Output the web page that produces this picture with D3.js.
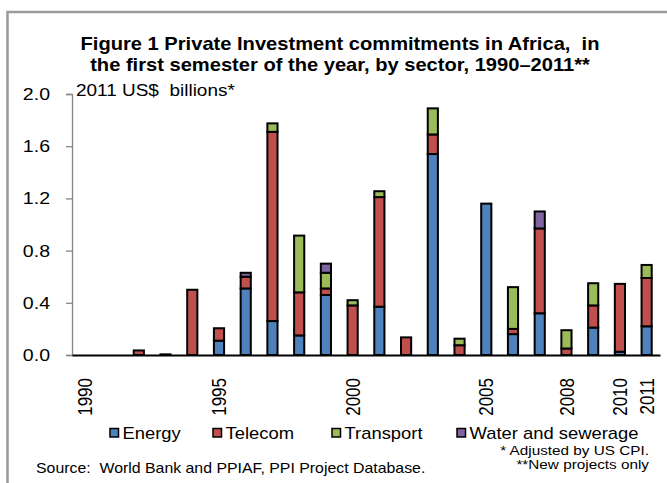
<!DOCTYPE html>
<html>
<head>
<meta charset="utf-8">
<script src="https://cdn.jsdelivr.net/npm/d3@7"></script>
<style>
  html, body { margin: 0; padding: 0; background: #fff; }
  svg { display: block; }
  text { font-family: 'Liberation Sans', Arial, Helvetica, sans-serif; fill: #000; white-space: pre; }
</style>
</head>
<body>
<svg id="chart" width="667" height="483"></svg>
<script>
// Private investment commitments in Africa (2011 US$ billions), first semester
const years = d3.range(1990, 2012).map(String);
const energy    = [0, 0, 0, 0, 0, 0.11, 0.51, 0.26, 0.15, 0.46, 0, 0.37, 0, 1.54, 0, 1.16, 0.16, 0.32, 0, 0.21, 0.025, 0.22];
const telecom   = [0, 0, 0.035, 0.005, 0.5, 0.095, 0.09, 1.45, 0.33, 0.05, 0.38, 0.84, 0.135, 0.15, 0.075, 0, 0.04, 0.65, 0.05, 0.17, 0.52, 0.37];
const transport = [0, 0, 0, 0, 0, 0, 0, 0.065, 0.435, 0.12, 0.04, 0.045, 0, 0.2, 0.05, 0, 0.32, 0, 0.14, 0.17, 0, 0.1];
const water     = [0, 0, 0, 0, 0, 0, 0.03, 0, 0, 0.07, 0, 0, 0, 0, 0, 0, 0, 0.13, 0, 0, 0, 0];

const sectors = ['Energy', 'Telecom', 'Transport', 'Water and sewerage'];
const sectorColors = ['#4F81BD', '#C0504D', '#9BBB59', '#8064A2'];
const yTicks = [0, 0.4, 0.8, 1.2, 1.6, 2.0];
const yearLabels = ['1990', '1995', '2000', '2005', '2008', '2010', '2011'];

const titleLines = [
  'Figure 1 Private Investment commitments in Africa,  in',
  'the first semester of the year, by sector, 1990\u20132011**'
];

// the source picture is stretched a bit horizontally; mimic that on text
const SX = 1.15;

const svg = d3.select('#chart');

// adds a text at (x, y) with the horizontal stretch applied
const addText = (parent, x, y, str, size, anchor, weight) => {
  return parent.append('text')
    .attr('transform', `translate(${x},${y}) scale(${SX},1)`)
    .attr('text-anchor', anchor || 'start')
    .style('font-size', size + 'px')
    .style('font-weight', weight || 'normal')
    .text(str);
};

// outer frame (only left and top edges are visible)
svg.append('path')
  .attr('d', 'M7.5,483 V12 H667')
  .attr('fill', 'none')
  .attr('stroke', '#9a9a9a')
  .attr('stroke-width', 2.5);

titleLines.forEach((line, i) => {
  addText(svg, 340, 50 + i * 21, line, 17.5, 'middle', 'bold');
});

const x = d3.scaleBand()
  .domain(years)
  .range([72, 660])
  .paddingInner(0.62)
  .paddingOuter(0.31);

const y = d3.scaleLinear()
  .domain([0, 2])
  .range([355, 94]);

// y axis
const yAxis = svg.append('g')
  .attr('transform', 'translate(72,0)')
  .call(d3.axisLeft(y).tickValues(yTicks).tickSize(6).tickFormat(d3.format('.1f')));
yAxis.select('.domain').attr('stroke', '#868686').attr('stroke-width', 1.3);
yAxis.selectAll('.tick line').attr('stroke', '#868686').attr('stroke-width', 1.3);
yAxis.selectAll('.tick text')
  .attr('x', -22 / SX)
  .attr('transform', `scale(${SX},1)`)
  .style('font-size', '17px')
  .style('font-family', null);

addText(svg, 76, 96, '2011 US$  billions*', 16.5, 'start');

// stacked bars
const rows = years.map((yr, i) => ({
  year: yr,
  [sectors[0]]: energy[i],
  [sectors[1]]: telecom[i],
  [sectors[2]]: transport[i],
  [sectors[3]]: water[i]
}));
const stacked = d3.stack().keys(sectors)(rows);

svg.append('g')
  .selectAll('g')
  .data(stacked)
  .join('g')
  .attr('fill', (d, i) => sectorColors[i])
  .selectAll('rect')
  .data(d => d.filter(s => s[1] - s[0] > 0))
  .join('rect')
  .attr('x', d => x(d.data.year))
  .attr('width', x.bandwidth())
  .attr('y', d => y(d[1]))
  .attr('height', d => y(d[0]) - y(d[1]))
  .attr('stroke', '#000')
  .attr('stroke-width', 2);

// x axis
const xAxis = svg.append('g')
  .attr('transform', 'translate(0,355)')
  .call(d3.axisBottom(x).tickValues(yearLabels).tickSize(0).tickSizeOuter(0));
xAxis.select('.domain').attr('stroke', '#000').attr('stroke-width', 2);
xAxis.selectAll('.tick text')
  .attr('transform', `scale(${SX},1) rotate(-90)`)
  .attr('text-anchor', 'end')
  .attr('x', -23)
  .attr('y', 0)
  .attr('dy', '0.36em')
  .style('font-size', '17px')
  .style('font-family', null);

// legend
const legendX = [110, 213, 332, 457];
const legend = svg.append('g');
sectors.forEach((name, i) => {
  legend.append('rect')
    .attr('x', legendX[i])
    .attr('y', 428.5)
    .attr('width', 8.5)
    .attr('height', 8.5)
    .attr('fill', sectorColors[i])
    .attr('stroke', '#000')
    .attr('stroke-width', 1.5);
  addText(legend, legendX[i] + 12.5, 438.5, name, 16, 'start');
});

// notes
addText(svg, 649, 455, '* Adjusted by US CPI.', 13.3, 'end');
addText(svg, 649, 469, '**New projects only', 13.3, 'end');
addText(svg, 36, 473, 'Source:  World Bank and PPIAF, PPI Project Database.', 13.8, 'start');
</script>
</body>
</html>
